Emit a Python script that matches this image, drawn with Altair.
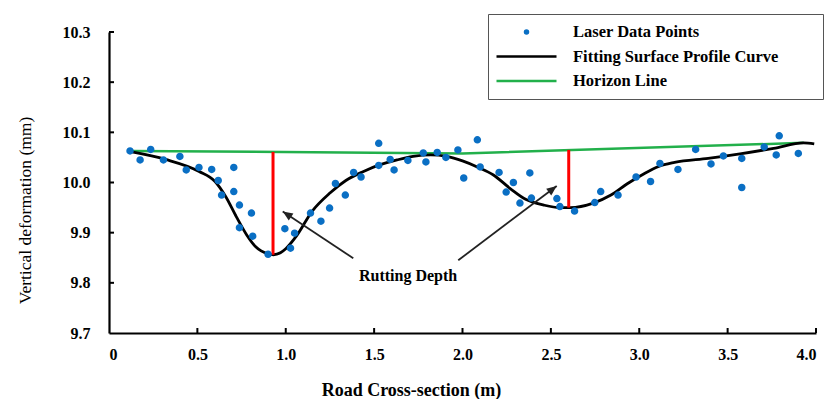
import math
import altair as alt
import pandas as pd

# ---------------- data ----------------
series_names = ["Laser Data Points", "Fitting Surface Profile Curve", "Horizon Line"]
series_colors = ["#0a6fc4", "#000000", "#22b04b"]

pt_x = [0.119, 0.176, 0.236, 0.308, 0.401, 0.437, 0.509, 0.581, 0.618, 0.637,
        0.706, 0.706, 0.738, 0.738, 0.806, 0.813, 0.900, 0.995, 1.027, 1.050,
        1.140, 1.199, 1.248, 1.281, 1.337, 1.384, 1.426, 1.526, 1.526, 1.591,
        1.613, 1.691, 1.778, 1.793, 1.857, 1.906, 1.974, 2.007, 2.084, 2.100,
        2.207, 2.247, 2.288, 2.325, 2.381, 2.390, 2.534, 2.551, 2.634, 2.748,
        2.782, 2.880, 2.982, 3.064, 3.117, 3.219, 3.319, 3.406, 3.476, 3.580,
        3.580, 3.707, 3.775, 3.792, 3.900]
pt_y = [10.063, 10.045, 10.066, 10.045, 10.052, 10.025, 10.030, 10.026, 10.004, 9.975,
        10.030, 9.982, 9.955, 9.910, 9.939, 9.893, 9.857, 9.908, 9.869, 9.899,
        9.939, 9.923, 9.949, 9.998, 9.975, 10.020, 10.011, 10.078, 10.034, 10.046,
        10.025, 10.044, 10.059, 10.041, 10.060, 10.050, 10.065, 10.009, 10.085, 10.031,
        10.020, 9.981, 10.000, 9.959, 10.019, 9.969, 9.968, 9.952, 9.943, 9.960,
        9.982, 9.975, 10.011, 10.002, 10.038, 10.026, 10.066, 10.037, 10.053, 10.048,
        9.990, 10.071, 10.055, 10.093, 10.058]

curve_x = [0.13, 0.32, 0.51, 0.60, 0.66, 0.72, 0.78, 0.83, 0.90, 0.93, 0.97, 1.00,
           1.06, 1.15, 1.25, 1.34, 1.44, 1.53, 1.63, 1.72, 1.82, 1.91, 2.00, 2.09,
           2.175, 2.27, 2.36, 2.46, 2.55, 2.61, 2.74, 2.84, 2.93, 3.02, 3.11, 3.20,
           3.39, 3.57, 3.76, 3.93, 3.99]
curve_y = [10.061, 10.046, 10.022, 10.002, 9.972, 9.932, 9.895, 9.872, 9.858, 9.856, 9.860, 9.868,
           9.893, 9.943, 9.979, 10.004, 10.022, 10.035, 10.045, 10.052, 10.055, 10.052, 10.043, 10.030,
           10.015, 9.988, 9.966, 9.955, 9.950, 9.950, 9.959, 9.975, 9.997, 10.016, 10.032, 10.040,
           10.048, 10.057, 10.068, 10.079, 10.077]

horizon_x = [0.124, 2.0, 3.93]
horizon_y = [10.063, 10.058, 10.079]

rut_x = [0.928, 2.601]
rut_top = [10.061, 10.065]
rut_bottom = [9.856, 9.950]

arrow_x0 = [1.382, 1.976]
arrow_y0 = [9.849, 9.845]
arrow_x1 = [0.983, 2.533]
arrow_y1 = [9.942, 9.993]

note_text = ["Rutting Depth"]
note_x = [1.692]
note_y = [9.814]

x_tick_values = [0, 0.5, 1.0, 1.5, 2.0, 2.5, 3.0, 3.5, 4.0]
y_tick_values = [9.7, 9.8, 9.9, 10.0, 10.1, 10.2, 10.3]

# ---------------- layout ----------------
W, H = 707, 301
X_DOM = [0, 4]
Y_DOM = [9.7, 10.3]
SERIF = "Liberation Serif"
BLUE = series_colors[0]
TICK_PX = 5

xs = alt.Scale(domain=X_DOM, nice=False, zero=False)
ys = alt.Scale(domain=Y_DOM, nice=False, zero=False)

x_axis = alt.Axis(values=x_tick_values, title="Road Cross-section (m)",
                  labelExpr="datum.value == 0 ? '0' : format(datum.value, '.1f')",
                  labelPadding=13, titleX=302, titleY=57, titleBaseline="middle",
                  titleAlign="center", titleFontWeight="bold", titleFontSize=18)
y_axis = alt.Axis(values=y_tick_values, format=".1f", title="Vertical deformation (mm)",
                  labelPadding=19, titleX=-84, titleY=178, titleAngle=270,
                  titleBaseline="middle", titleAlign="center",
                  titleFontWeight="normal", titleFontSize=17.5)

color_scale = alt.Scale(domain=series_names, range=series_colors)
CIRCLE = "M-0.05,0A0.05,0.05,0,1,0,0.05,0A0.05,0.05,0,1,0,-0.05,0Z"
LINE = "M-1,0L1,0"
shape_scale = alt.Scale(domain=series_names, range=[CIRCLE, LINE, LINE])
# widen the legend box on the right (trailing blanks kept by a final braille blank)
pad_expr = "datum.label + '" + "\u00a0" * 6 + "\u2800'"
leg = alt.Legend(title=None, labelExpr=pad_expr)

pts = pd.DataFrame({"x": pt_x, "y": pt_y, "series": series_names[0]})
crv = pd.DataFrame({"x": curve_x, "y": curve_y, "series": series_names[1]})
hzn = pd.DataFrame({"x": horizon_x, "y": horizon_y, "series": series_names[2]})
rut = pd.DataFrame({"x": rut_x, "y": rut_top, "y2": rut_bottom})

px_x = W / (X_DOM[1] - X_DOM[0])
px_y = H / (Y_DOM[1] - Y_DOM[0])
angles = []
for a, b, c, d in zip(arrow_x0, arrow_y0, arrow_x1, arrow_y1):
    dx = (c - a) * px_x
    dys = -(d - b) * px_y
    angles.append(math.degrees(math.atan2(dx, -dys)) % 360)
arr = pd.DataFrame({"x": arrow_x0, "y": arrow_y0, "x2": arrow_x1, "y2": arrow_y1, "angle": angles})
note = pd.DataFrame({"x": note_x, "y": note_y, "t": note_text})
# inward axis ticks (TICK_PX long), built from the tick values and the axis scales
xt = pd.DataFrame({"v": x_tick_values[1:], "a": Y_DOM[0], "b": Y_DOM[0] + TICK_PX / px_y})
yt = pd.DataFrame({"v": y_tick_values[1:], "a": X_DOM[0], "b": X_DOM[0] + TICK_PX / px_x})

horizon = alt.Chart(hzn).mark_line(strokeWidth=2.5).encode(
    x=alt.X("x:Q", scale=xs, axis=x_axis),
    y=alt.Y("y:Q", scale=ys, axis=y_axis),
    color=alt.Color("series:N", scale=color_scale, legend=leg),
)
curve = alt.Chart(crv).mark_line(strokeWidth=2.8, interpolate="monotone").encode(
    x=alt.X("x:Q", scale=xs),
    y=alt.Y("y:Q", scale=ys),
    color=alt.Color("series:N", scale=color_scale, legend=leg),
)
ruts = alt.Chart(rut).mark_rule(color="#ff0000", strokeWidth=3).encode(
    x=alt.X("x:Q", scale=xs), y=alt.Y("y:Q", scale=ys), y2="y2:Q"
)
points = alt.Chart(pts).mark_point(filled=False, fill=BLUE, strokeWidth=4.5, size=3600,
                                   opacity=1).encode(
    x=alt.X("x:Q", scale=xs),
    y=alt.Y("y:Q", scale=ys),
    color=alt.Color("series:N", scale=color_scale, legend=leg),
    shape=alt.Shape("series:N", scale=shape_scale, legend=leg),
)
arrow_lines = alt.Chart(arr).mark_rule(color="#222222", strokeWidth=1.8).encode(
    x=alt.X("x:Q", scale=xs), y=alt.Y("y:Q", scale=ys), x2="x2:Q", y2="y2:Q"
)
arrow_heads = alt.Chart(arr).mark_point(
    shape="M0,0L-0.42,1L0.42,1Z", filled=True, size=400, color="#222222", opacity=1
).encode(
    x=alt.X("x2:Q", scale=xs), y=alt.Y("y2:Q", scale=ys), angle=alt.Angle("angle:Q", scale=None)
)
note_mark = alt.Chart(note).mark_text(font=SERIF, fontSize=16, fontWeight="bold",
                                      color="#000000", baseline="middle", align="center").encode(
    x=alt.X("x:Q", scale=xs), y=alt.Y("y:Q", scale=ys), text="t:N"
)
y_ticks = alt.Chart(yt).mark_rule(color="#000000", strokeWidth=2).encode(
    x=alt.X("a:Q", scale=xs), x2="b:Q", y=alt.Y("v:Q", scale=ys)
)
x_ticks = alt.Chart(xt).mark_rule(color="#000000", strokeWidth=2).encode(
    y=alt.Y("a:Q", scale=ys), y2="b:Q", x=alt.X("v:Q", scale=xs)
)

chart = alt.layer(
    horizon, curve, ruts, points, arrow_lines, arrow_heads, note_mark, y_ticks, x_ticks
).properties(
    width=W, height=H,
    autosize=alt.AutoSizeParams(type="none"),
    padding={"left": 109, "top": 32, "right": 12, "bottom": 66},
).configure_view(stroke=None).configure_axis(
    grid=False, ticks=False, domainColor="#000000", domainWidth=2.2,
    labelFont=SERIF, labelFontSize=16, labelFontWeight="bold", labelColor="#000000",
    titleFont=SERIF, titleColor="#000000",
).configure_legend(
    orient="none", legendX=379, legendY=-18, padding=7,
    strokeColor="#555555", fillColor="#ffffff",
    labelFont=SERIF, labelFontSize=16.5, labelFontWeight="bold", labelColor="#000000",
    labelLimit=600, labelOffset=15, symbolSize=3600, symbolStrokeWidth=2.5,
    clipHeight=22, rowPadding=2.5, symbolOpacity=1,
)

chart.save("out.html", embed_options={"renderer": "svg", "actions": False})
